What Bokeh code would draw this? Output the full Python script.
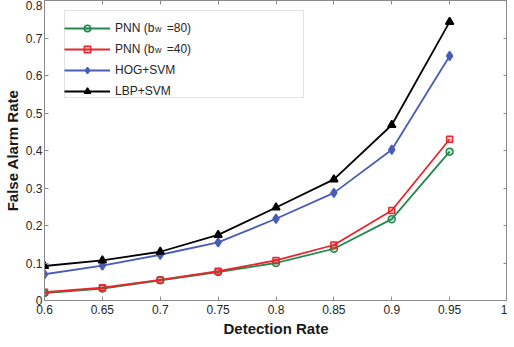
from bokeh.plotting import figure
from bokeh.models import LinearAxis, FixedTicker, Range1d, BoxAnnotation
from bokeh.core.properties import value
from bokeh.embed import file_html
from bokeh.resources import INLINE

# ---- data ----
detection_rate = [0.6, 0.65, 0.7, 0.75, 0.8, 0.85, 0.9, 0.95]
pnn_80 = [0.020, 0.032, 0.054, 0.076, 0.100, 0.138, 0.217, 0.397]
pnn_40 = [0.022, 0.034, 0.055, 0.078, 0.107, 0.148, 0.240, 0.430]
hog_svm = [0.070, 0.093, 0.122, 0.155, 0.218, 0.287, 0.402, 0.652]
lbp_svm = [0.092, 0.107, 0.130, 0.175, 0.248, 0.323, 0.468, 0.743]

x_ticks = [0.6, 0.65, 0.7, 0.75, 0.8, 0.85, 0.9, 0.95, 1.0]
x_tick_labels = ["0.6", "0.65", "0.7", "0.75", "0.8", "0.85", "0.9", "0.95", "1"]
y_ticks = [0.0, 0.1, 0.2, 0.3, 0.4, 0.5, 0.6, 0.7, 0.8]
y_tick_labels = ["0", "0.1", "0.2", "0.3", "0.4", "0.5", "0.6", "0.7", "0.8"]

NB = "\u00a0"
GAP = NB * 3 + "\u2009"
series_labels = ["PNN (b" + GAP + "=80)", "PNN (b" + GAP + "=40)", "HOG+SVM", "LBP+SVM"]

FONT = "Liberation Sans"
GRAY = "#8a8a8a"
TXT = "#262626"

X0, X1, Y0, Y1 = 0.6, 1.0, 0.0, 0.8
FW, FH = 463, 300

p = figure(frame_width=FW, frame_height=FH, output_backend="svg", toolbar_location=None,
           x_range=Range1d(X0, X1), y_range=Range1d(Y0, Y1),
           min_border_left=0, min_border_right=0, min_border_top=0, min_border_bottom=0)
p.grid.visible = False
p.outline_line_color = GRAY
p.background_fill_color = "white"


def fx(px):
    return X0 + px * (X1 - X0) / FW


def fy(py):
    return Y0 + py * (Y1 - Y0) / FH


# legend frame geometry (pixels from frame left / bottom); border only
LX, LW, LH = 20, 239, 87
LY = FH - 10 - LH
p.add_layout(BoxAnnotation(left=fx(LX), right=fx(LX + LW), bottom=fy(LY), top=fy(LY + LH),
                           fill_alpha=0.0, line_color="#9a9a9a", line_width=1))

series = [
    (pnn_80, "#23894A", "circle", 7, 0.25),
    (pnn_40, "#E8262C", "square", 6, 0.25),
    (hog_svm, "#4A5DB6", "diamond", 9, 1.0),
    (lbp_svm, "#000000", "triangle", 8, 1.0),
]
for (vals, col, mk, sz, fa), lab in zip(series, series_labels):
    p.line(detection_rate, vals, line_color=col, line_width=1.8, legend_label=lab)
    p.scatter(detection_rate, vals, marker=mk, size=sz, line_color=col, line_width=1.5,
              fill_color=col, fill_alpha=fa, legend_label=lab)

# main axes
for ax, ticks, labels in [(p.xaxis[0], x_ticks, x_tick_labels), (p.yaxis[0], y_ticks, y_tick_labels)]:
    ax.ticker = FixedTicker(ticks=ticks)
    ax.major_label_overrides = dict(zip(ticks, labels))
    ax.minor_tick_line_color = None
    ax.major_tick_in = 4
    ax.major_tick_out = 0
    ax.major_tick_line_color = GRAY
    ax.axis_line_color = GRAY
    ax.major_label_text_font = FONT
    ax.major_label_text_font_size = "12px"
    ax.major_label_text_color = TXT
    ax.axis_label_text_font = FONT
    ax.axis_label_text_font_size = "15px"
    ax.axis_label_text_font_style = "bold"
    ax.axis_label_text_color = "#1a1a1a"

p.xaxis.axis_label = "Detection Rate"
p.yaxis.axis_label = "False Alarm Rate"
p.xaxis.major_label_standoff = 4
p.xaxis.axis_label_standoff = 3
p.yaxis.major_label_standoff = 2
p.yaxis.axis_label_standoff = 2

# mirrored tick axes (box), no labels drawn
top = LinearAxis(ticker=FixedTicker(ticks=x_ticks))
right = LinearAxis(ticker=FixedTicker(ticks=y_ticks))
for ax in (top, right):
    ax.major_label_text_font_size = "1px"
    ax.major_label_text_color = None
    ax.major_label_standoff = 0
    ax.minor_tick_line_color = None
    ax.major_tick_in = 4
    ax.major_tick_out = 0
    ax.major_tick_line_color = GRAY
    ax.axis_line_color = GRAY
p.add_layout(top, "above")
p.add_layout(right, "right")

# legend (its box is the BoxAnnotation above)
LEG_Y = LY - 2
lg = p.legend[0]
lg.location = (LX, LEG_Y)
lg.margin = 0
lg.padding = 4
lg.spacing = 5
lg.glyph_width = 46
lg.glyph_height = 16
lg.label_height = 16
lg.label_standoff = 5
lg.label_text_font = FONT
lg.label_text_font_size = "12px"
lg.label_text_color = TXT
lg.border_line_color = None
lg.background_fill_alpha = 0.0

# subscript "w" in the two PNN legend labels
sub_x = LX + 4 + 46 + 5 + 35.5
row1 = LEG_Y + LH - 4 - 8
p.text(x=[fx(sub_x), fx(sub_x)], y=[fy(row1 - 4), fy(row1 - 21 - 4)], text=["w", "w"],
       text_font=value(FONT), text_font_size=value("9px"), text_color=TXT,
       text_baseline="middle", text_align="left")

open("out.html", "w").write(file_html(p, INLINE))
